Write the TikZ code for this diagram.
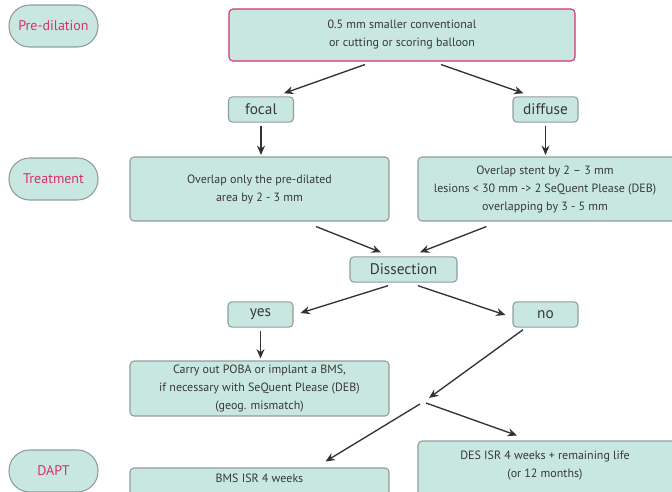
\documentclass[tikz,border=0pt]{standalone}
\usepackage{fontspec}
\setmainfont{PT Sans}
\usetikzlibrary{arrows.meta}
\definecolor{boxfill}{HTML}{C9E7E1}
\definecolor{boxline}{HTML}{8E9E9C}
\definecolor{pinkc}{HTML}{D6306E}
\definecolor{txt}{HTML}{383838}
\tikzset{
  box/.style={draw=boxline, fill=boxfill, line width=0.8pt, rounded corners=3pt, inner sep=0pt, align=center, text=txt, font=\fontsize{9}{13.5}\selectfont},
  tag/.style={box, font=\fontsize{11.5}{13}\selectfont},
  pill/.style={draw=boxline, fill=boxfill, line width=0.8pt, rounded corners=15.5pt, minimum width=66.75pt, minimum height=31.5pt, inner sep=0pt, text=pinkc, font=\fontsize{10.5}{12}\selectfont},
  txtonly/.style={align=center, text=txt, inner sep=0pt, font=\fontsize{9}{13.5}\selectfont},
  arr/.style={-{Stealth[length=7pt,width=6pt]}, line width=1pt, draw=txt!90!black}
}
\begin{document}
\begin{tikzpicture}[x=0.75pt,y=-0.75pt]
\useasboundingbox (0,0) rectangle (672,492);
\clip (0,0) rectangle (672,492);
% pills
\node[pill] (pre) at (53.5,26) {Pre-dilation};
\node[pill] (treat) at (53.5,179) {Treatment};
\node[pill] (dapt) at (53.5,471) {DAPT};
% top
\node[box, draw=pinkc, minimum width=259.5pt, minimum height=39pt] (top) at (402,35) {0.5 mm smaller conventional\\or cutting or scoring balloon};
\node[tag, minimum width=48.75pt, minimum height=19pt] (focal) at (261,109.5) {focal};
\node[tag, minimum width=48.75pt, minimum height=19pt] (diffuse) at (545.5,109.5) {diffuse};
% treatment
\node[box, minimum width=194.25pt, minimum height=48pt] (tl) at (259.5,189) {Overlap only the pre-dilated\\area by 2 - 3 mm};
\node[box, minimum width=195pt, minimum height=48pt] (tr) at (548,189) {};
\node[txtonly] (trt) at (545,189) {Overlap stent by 2 -- 3 mm\\lesions < 30 mm -> 2 SeQuent Please (DEB)\\overlapping by 3 - 5 mm};
% dissection
\node[tag, minimum width=80.25pt, minimum height=19pt] (dis) at (403.5,269.5) {Dissection};
\node[tag, minimum width=48.75pt, minimum height=19pt] (yes) at (260.5,314.5) {yes};
\node[tag, minimum width=48.75pt, minimum height=19pt] (no) at (545.5,314.5) {no};
\node[box, minimum width=194.25pt, minimum height=41.25pt] (poba) at (259.5,388.5) {Carry out POBA or implant a BMS,\\if necessary with SeQuent Please (DEB)\\(geog. mismatch)};
% DAPT
\node[box, minimum width=194.25pt, minimum height=21pt] (bms) at (259.5,482) {};
\node[txtonly] (bmst) at (259.5,478) {BMS ISR 4 weeks};
\node[box, minimum width=195pt, minimum height=42pt] (des) at (548,469) {};
\node[txtonly] (dest) at (545,465.5) {DES ISR 4 weeks + remaining life\\(or 12 months)};
\coordinate (j) at (423,402);
% arrows
\draw[arr] ([shift={(-37,3)}]top.south) -- ([shift={(23,-3)}]focal.north);
\draw[arr] ([shift={(39,3)}]top.south) -- ([shift={(-22,-3)}]diffuse.north);
\draw[arr] ([shift={(0,3)}]focal.south) -- ([shift={(0,-1.5)}]focal.south |- tl.north);
\draw[arr] ([shift={(0,3)}]diffuse.south) -- ([shift={(0,-1.5)}]diffuse.south |- tr.north);
\draw[arr] ([shift={(56.5,5)}]tl.south) -- ([shift={(-22.5,-4)}]dis.north);
\draw[arr] ([shift={(-61.5,5)}]tr.south) -- ([shift={(16.5,-4)}]dis.north);
\draw[arr] ([shift={(-15.5,3)}]dis.south) -- ([shift={(7,-1.5)}]yes.east);
\draw[arr] ([shift={(14.5,3)}]dis.south) -- ([shift={(-7,0.5)}]no.west);
\draw[arr] ([shift={(0,3)}]yes.south) -- ([shift={(0,-2)}]yes.south |- poba.north);
\draw[arr] ([shift={(-22.5,2)}]no.south) -- ([shift={(6,-4)}]j);
\draw[arr] ([shift={(-3,2)}]j) -- ([shift={(66,-6)}]bms.north);
\draw[arr] ([shift={(3,1)}]j) -- ([shift={(-31,-5)}]des.north);
\end{tikzpicture}
\end{document}
